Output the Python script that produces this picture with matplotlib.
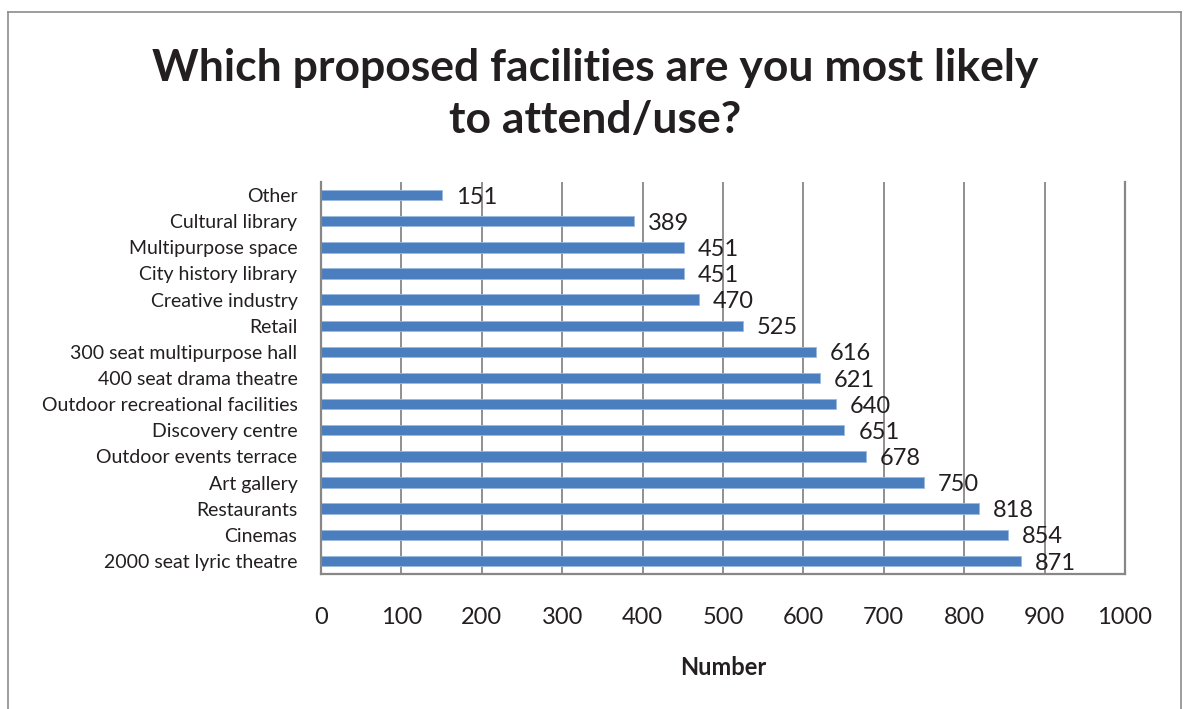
import matplotlib.pyplot as plt
from matplotlib.lines import Line2D

facilities = ['Other', 'Cultural library', 'Multipurpose space', 'City history library',
              'Creative industry', 'Retail', '300 seat multipurpose hall',
              '400 seat drama theatre', 'Outdoor recreational facilities',
              'Discovery centre', 'Outdoor events terrace', 'Art gallery',
              'Restaurants', 'Cinemas', '2000 seat lyric theatre']
counts = [151, 389, 451, 451, 470, 525, 616, 621, 640, 651, 678, 750, 818, 854, 871]
x_ticks = [0, 100, 200, 300, 400, 500, 600, 700, 800, 900, 1000]

plt.rcParams['font.family'] = ['Lato', 'DejaVu Sans']
txt = '#231f20'
grey = '#878787'

fig = plt.figure(figsize=(11.87, 7.09), dpi=100)
ax = fig.add_axes([321 / 1187, 1 - 574 / 709, 804 / 1187, 392 / 709])

ypos = list(range(len(facilities)))
bars = ax.barh(ypos, counts, height=0.4, color='#4a7ebf', edgecolor='#9bb9de', linewidth=0.6)
for y, v in zip(ypos, counts):
    ax.annotate(str(v), (v, y), xytext=(10, -1.5), textcoords='offset points',
                ha='left', va='center', fontsize=17, color=txt)

ax.set_ylim(len(facilities) - 0.5, -0.5)
ax.set_yticks(ypos)
ax.set_yticklabels(facilities, fontsize=14, color=txt)
ax.set_xlim(0, 1000)
ax.set_xticks(x_ticks)
ax.set_xticklabels([str(t) for t in x_ticks], fontsize=17, color=txt)
ax.tick_params(axis='both', length=0)
ax.tick_params(axis='y', pad=17)
ax.tick_params(axis='x', pad=24)
ax.grid(axis='x', color=grey, linewidth=1.3)
ax.set_axisbelow(True)
ax.spines['top'].set_visible(False)
for s in ['left', 'bottom', 'right']:
    ax.spines[s].set_color(grey)
    ax.spines[s].set_linewidth(1.6)

ax.set_xlabel('Number', fontsize=17, fontweight='bold', color=txt, labelpad=20)

fig.text(0.5015, 1 - 94 / 709, 'Which proposed facilities are you most likely\nto attend/use?',
         ha='center', va='center', fontsize=32, fontweight='bold', color=txt, linespacing=1.35)

# frame round the chart, open at the bottom
frame = dict(color='#8c8c8c', linewidth=1.2)
fig.add_artist(Line2D([8 / 1187, 8 / 1187], [0, 1 - 12 / 709], **frame))
fig.add_artist(Line2D([8 / 1187, 1181 / 1187], [1 - 12 / 709, 1 - 12 / 709], **frame))
fig.add_artist(Line2D([1181 / 1187, 1181 / 1187], [0, 1 - 12 / 709], **frame))

fig.savefig('out.png', dpi=100)
